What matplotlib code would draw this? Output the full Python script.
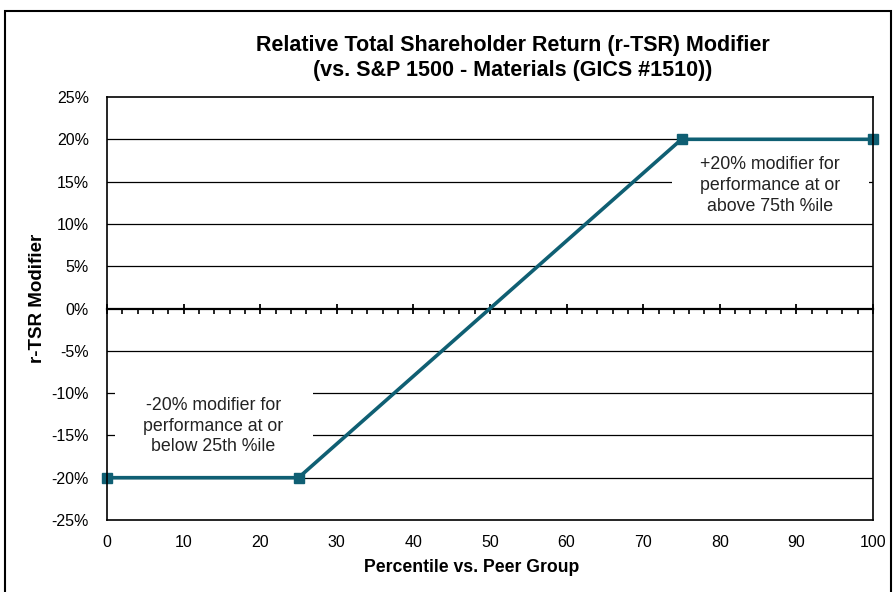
import matplotlib
matplotlib.use("Agg")
import matplotlib.pyplot as plt
from matplotlib.patches import Rectangle
from matplotlib.ticker import MultipleLocator, FuncFormatter, NullFormatter

plt.rcParams['font.family'] = ['Liberation Sans', 'DejaVu Sans']

# Data
percentile = [0, 25, 75, 100]
modifier = [-20, -20, 20, 20]
x_ticks = list(range(0, 101, 10))
y_ticks = list(range(-25, 26, 5))
title = "Relative Total Shareholder Return (r-TSR) Modifier\n(vs. S&P 1500 - Materials (GICS #1510))"
low_note = "-20% modifier for\nperformance at or\nbelow 25th %ile"
high_note = "+20% modifier for\nperformance at or\nabove 75th %ile"

W, H = 894, 592
fig = plt.figure(figsize=(W / 100, H / 100), dpi=100)
fig.patch.set_facecolor('white')

# figure border
fig.patches.append(Rectangle((4.5 / W, -0.01), (891 - 4.5) / W, 1 - 11.5 / H + 0.01,
                             transform=fig.transFigure, fill=False, edgecolor='black',
                             linewidth=1.5, zorder=0))

rect = [107 / W, 1 - 520 / H, 766 / W, 423 / H]

# overlay axes providing the zero axis with its tick marks
ax0 = fig.add_axes(rect, zorder=0)
ax0.set_xlim(0, 100)
ax0.set_ylim(-25, 25)
ax0.patch.set_facecolor('white')
for side in ('top', 'left', 'right'):
    ax0.spines[side].set_visible(False)
ax0.spines['bottom'].set_position(('data', 0))
ax0.spines['bottom'].set_linewidth(1.6)
ax0.set_yticks([])
ax0.set_xticks(x_ticks)
ax0.xaxis.set_major_formatter(NullFormatter())
ax0.xaxis.set_minor_locator(MultipleLocator(2))
ax0.tick_params(axis='x', which='major', direction='inout', length=7, width=1.3)
ax0.tick_params(axis='x', which='minor', direction='out', length=3.5, width=1.2)

ax = fig.add_axes(rect, zorder=1)
ax.patch.set_alpha(0)
ax.set_xlim(0, 100)
ax.set_ylim(-25, 25)

# gridlines
for yv in y_ticks:
    if -25 < yv < 25 and yv != 0:
        ax.axhline(yv, color='black', lw=0.9, zorder=1)

# white boxes behind notes
ax.add_patch(Rectangle((1.0, -17.5), 25.9, 8.1, facecolor='white', edgecolor='none', zorder=1.5))
ax.add_patch(Rectangle((73.8, 10.5), 25.7, 8.2, facecolor='white', edgecolor='none', zorder=1.5))

ax.plot(percentile, modifier, color='#0F5F73', lw=2.6, marker='s', markersize=6.5,
        zorder=4, clip_on=False)

ax.text(13.9, -13.9, low_note, ha='center', va='center', fontsize=12.8, color='#222222',
        linespacing=1.3, zorder=5)
ax.text(86.6, 14.5, high_note, ha='center', va='center', fontsize=12.8, color='#222222',
        linespacing=1.3, zorder=5)

for s in ax.spines.values():
    s.set_linewidth(1.2)
    s.set_zorder(6)

ax.set_xticks(x_ticks)
ax.set_yticks(y_ticks)
ax.yaxis.set_major_formatter(FuncFormatter(lambda v, p: f"{int(v)}%"))
ax.tick_params(axis='both', length=0, labelsize=11.5, colors='black')
ax.tick_params(axis='x', pad=11)
ax.tick_params(axis='y', pad=13)

fig.text(513 / W, 1 - 58 / H, title, ha='center', va='center', fontsize=15.5,
         fontweight='bold', linespacing=1.25)
fig.text(472 / W, 1 - 568 / H, "Percentile vs. Peer Group", ha='center', va='center',
         fontsize=12.7, fontweight='bold')
fig.text(37 / W, 1 - 298 / H, "r-TSR Modifier", ha='center', va='center', rotation=90,
         fontsize=13.5, fontweight='bold')

fig.savefig("out.png", dpi=100)
